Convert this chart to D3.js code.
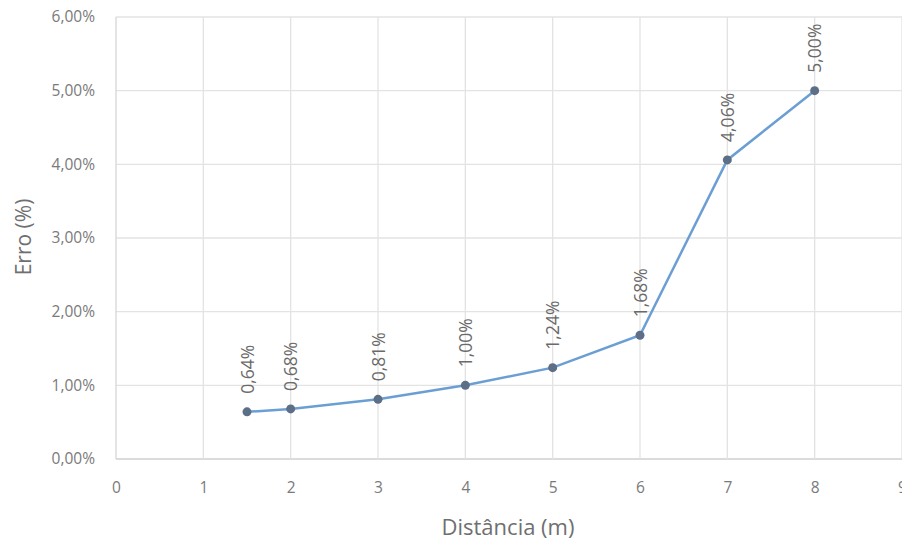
<!DOCTYPE html>
<html><head><meta charset="utf-8">
<script src="https://cdn.jsdelivr.net/npm/d3@7"></script>
<style>body{margin:0;background:#fff}svg{display:block}</style>
</head><body>
<svg id="c" width="902" height="541"></svg>
<script>
const distances = [1.5, 2, 3, 4, 5, 6, 7, 8];
const errors = [0.64, 0.68, 0.81, 1.00, 1.24, 1.68, 4.06, 5.00];
const xTicks = [0,1,2,3,4,5,6,7,8,9];
const yTicks = [0,1,2,3,4,5,6];
const xTitle = "Distância (m)";
const yTitle = "Erro (%)";

const svg = d3.select("#c");
const fmt = v => v.toFixed(2).replace(".", ",") + "%";
const x = d3.scaleLinear().domain([0,9]).range([116, 902]);
const y = d3.scaleLinear().domain([0,6]).range([459, 17]);
const font = "'Open Sans', 'Liberation Sans', sans-serif";

const g = svg.append("g");
g.selectAll("line.hg").data(yTicks).join("line")
  .attr("x1", x(0)).attr("x2", x(9)).attr("y1", d=>y(d)).attr("y2", d=>y(d))
  .attr("stroke", d => d===0 ? "#cfcfcf" : "#e3e3e3").attr("stroke-width", d => d===0?1.6:1.3);
g.selectAll("line.vg").data(xTicks).join("line")
  .attr("y1", y(0)).attr("y2", y(6)).attr("x1", d=>x(d)).attr("x2", d=>x(d))
  .attr("stroke", d => d===0 ? "#d6d6d6" : "#e3e3e3").attr("stroke-width", 1.3);

const xAxis = d3.axisBottom(x).tickValues(xTicks).tickSize(0).tickPadding(23).tickFormat(d3.format("d"));
const yAxis = d3.axisLeft(y).tickValues(yTicks).tickSize(0).tickPadding(21).tickFormat(d => fmt(d));
const gx = svg.append("g").attr("transform", `translate(0,${y(0)})`).call(xAxis);
const gy = svg.append("g").attr("transform", `translate(${x(0)},0)`).call(yAxis);
[gx, gy].forEach(a => {
  a.select(".domain").remove();
  a.selectAll("text").attr("fill", "#7a7a7a").style("font-family", font).style("font-size", "15.5px");
});

svg.append("path").datum(distances.map((d,i)=>[d, errors[i]]))
  .attr("fill","none").attr("stroke","#6b9fd4").attr("stroke-width",2.5)
  .attr("d", d3.line().x(d=>x(d[0])).y(d=>y(d[1])));
svg.selectAll("circle.pt").data(distances).join("circle")
  .attr("cx", d=>x(d)).attr("cy", (d,i)=>y(errors[i])).attr("r", 4.5)
  .attr("fill", "#5d6e87");
svg.selectAll("text.lbl").data(distances).join("text")
  .attr("transform", (d,i)=>`translate(${x(d)+6.5},${y(errors[i])-18}) rotate(-90)`)
  .attr("text-anchor","start")
  .attr("fill","#6a6a6a").style("font-family", font).style("font-size","17.5px")
  .text((d,i)=>fmt(errors[i]));

svg.append("text").attr("x", 508).attr("y", 535).attr("text-anchor","middle")
  .attr("fill","#6f6f6f").style("font-family", font).style("font-size","22px").text(xTitle);
svg.append("text").attr("transform","translate(31,237) rotate(-90)").attr("text-anchor","middle")
  .attr("fill","#6f6f6f").style("font-family", font).style("font-size","21px").text(yTitle);
</script>
</body></html>
